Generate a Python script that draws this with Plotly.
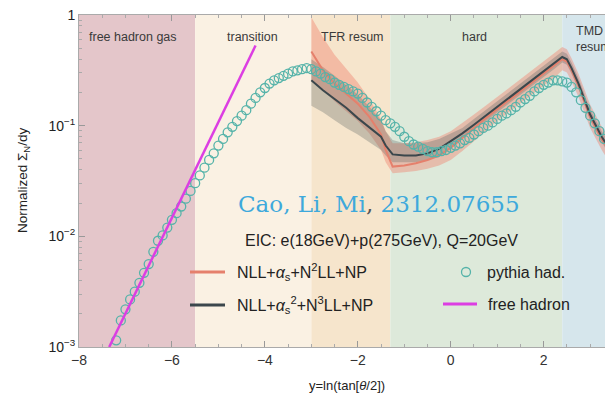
import numpy as np
import plotly.graph_objects as go

# ---------------- data ----------------
# kinematic regions along y = ln(tan(theta/2))
region_edges = [-8.0, -5.5, -3.0, -1.3, 2.4, 3.6]
region_colors = ["#e4c6ca", "#faf1e3", "#f6e5cc", "#dde9da", "#d6e6ec"]
region_names = ["free hadron gas", "transition", "TFR resum", "hard", "TMD<br>resum"]
region_label_x = [-6.84, -4.27, -2.12, 0.51, 2.65]

# PYTHIA hadron-level points
pythia_x = np.linspace(-7.2, 3.3, 106)
pythia_y = [
    1.15e-3, 1.74e-3, 2.19e-3, 2.69e-3, 3.16e-3, 3.80e-3, 4.68e-3, 5.62e-3, 7.24e-3, 9.12e-3,
    1.02e-2, 1.20e-2, 1.41e-2, 1.62e-2, 1.86e-2, 2.19e-2, 2.57e-2, 3.02e-2, 3.55e-2, 4.17e-2,
    4.90e-2, 5.62e-2, 6.61e-2, 7.59e-2, 8.71e-2, 9.77e-2, 0.110, 0.123, 0.138, 0.158,
    0.178, 0.200, 0.219, 0.240, 0.257, 0.269, 0.282, 0.295, 0.309, 0.316,
    0.324, 0.331, 0.324, 0.309, 0.295, 0.275, 0.263, 0.245, 0.234, 0.224,
    0.214, 0.204, 0.195, 0.178, 0.162, 0.148, 0.135, 0.123, 0.112, 0.105,
    0.0977, 0.0891, 0.0794, 0.0724, 0.0676, 0.0646, 0.0617, 0.0589, 0.0575, 0.0575,
    0.0589, 0.0603, 0.0631, 0.0661, 0.0692, 0.0741, 0.0776, 0.0832, 0.0891, 0.0955,
    0.100, 0.107, 0.115, 0.123, 0.129, 0.138, 0.148, 0.162, 0.174, 0.186,
    0.204, 0.219, 0.234, 0.245, 0.257, 0.257, 0.251, 0.245, 0.224, 0.200,
    0.170, 0.145, 0.123, 0.105, 0.0891, 0.0759,
]

# free-hadron-gas scaling line
free_x = [-7.35, -4.2]
free_y = [1.0e-3, 0.53]

# resummed predictions
theory_x = [-3.0, -2.75, -2.5, -2.25, -2.0, -1.75, -1.5, -1.4, -1.25, -1.0,
            -0.75, -0.5, -0.25, 0.0, 0.25, 0.5, 0.75, 1.0, 1.25, 1.5,
            1.75, 2.0, 2.25, 2.4, 2.5, 2.6, 2.75, 3.0, 3.25, 3.4]

# NLL + alpha_s + N2LL + NP
n2ll_mid = [0.468, 0.316, 0.240, 0.195, 0.158, 0.120, 0.0832, 0.0603, 0.0427, 0.0437,
            0.0457, 0.0490, 0.0537, 0.0631, 0.0776, 0.0955, 0.117, 0.141, 0.170, 0.204,
            0.245, 0.295, 0.355, 0.398, 0.380, 0.316, 0.229, 0.120, 0.0759, 0.0603]
n2ll_hi = [0.955, 0.631, 0.437, 0.324, 0.245, 0.174, 0.115, 0.0891, 0.0692, 0.0692,
           0.0708, 0.0741, 0.0794, 0.0891, 0.105, 0.126, 0.151, 0.182, 0.219, 0.263,
           0.316, 0.380, 0.457, 0.513, 0.490, 0.407, 0.295, 0.155, 0.0977, 0.0776]
n2ll_lo = [0.263, 0.209, 0.166, 0.135, 0.110, 0.0851, 0.0603, 0.0468, 0.0372, 0.0380,
           0.0389, 0.0407, 0.0437, 0.0490, 0.0589, 0.0724, 0.0891, 0.110, 0.132, 0.158,
           0.191, 0.229, 0.275, 0.316, 0.302, 0.251, 0.182, 0.0955, 0.0603, 0.0479]

# NLL + alpha_s^2 + N3LL + NP
n3ll_mid = [0.257, 0.209, 0.174, 0.145, 0.117, 0.0955, 0.0794, 0.0661, 0.0550, 0.0537,
            0.0537, 0.0562, 0.0617, 0.0724, 0.0851, 0.102, 0.123, 0.148, 0.178, 0.214,
            0.257, 0.309, 0.372, 0.417, 0.398, 0.331, 0.240, 0.126, 0.0794, 0.0631]
n3ll_hi = [0.398, 0.339, 0.282, 0.234, 0.191, 0.148, 0.112, 0.0891, 0.0741, 0.0692,
           0.0692, 0.0708, 0.0759, 0.0851, 0.0955, 0.115, 0.138, 0.166, 0.200, 0.240,
           0.288, 0.347, 0.417, 0.468, 0.447, 0.372, 0.269, 0.141, 0.0891, 0.0708]
n3ll_lo = [0.151, 0.132, 0.112, 0.0955, 0.0832, 0.0708, 0.0603, 0.0537, 0.0468, 0.0468,
           0.0468, 0.0490, 0.0537, 0.0617, 0.0759, 0.0912, 0.110, 0.132, 0.158, 0.191,
           0.229, 0.275, 0.331, 0.372, 0.355, 0.295, 0.214, 0.112, 0.0708, 0.0562]

x_ticks = [-8, -6, -4, -2, 0, 2]
x_ticktext = ["\u22128", "\u22126", "\u22124", "\u22122", "0", "2"]
y_ticks = [1e-3, 1e-2, 1e-1, 1]
y_ticktext = ["10<sup>\u22123</sup>", "10<sup>\u22122</sup>", "10<sup>\u22121</sup>", "1"]

# ---------------- layout geometry ----------------
W, H = 605, 398
ML, MR, MT, MB = 79, 0, 15, 51
PW, PH = W - ML - MR, H - MT - MB


def px(x):
    return (x - ML) / PW


def py(y):
    return 1 - (y - MT) / PH


FONT = "Liberation Sans, Arial, sans-serif"
RED = "#e5806c"
DARK = "#3b474c"
TEAL = "#55b3a9"
MAGENTA = "#dc3ee2"

fig = go.Figure()

# uncertainty bands
fig.add_trace(go.Scatter(x=theory_x, y=n2ll_lo, mode="lines", line=dict(width=0),
                         hoverinfo="skip", showlegend=False))
fig.add_trace(go.Scatter(x=theory_x, y=n2ll_hi, mode="lines", line=dict(width=0),
                         fill="tonexty", fillcolor="rgba(240,135,115,0.45)",
                         hoverinfo="skip", showlegend=False))
fig.add_trace(go.Scatter(x=theory_x, y=n3ll_lo, mode="lines", line=dict(width=0),
                         hoverinfo="skip", showlegend=False))
fig.add_trace(go.Scatter(x=theory_x, y=n3ll_hi, mode="lines", line=dict(width=0),
                         fill="tonexty", fillcolor="rgba(85,95,95,0.30)",
                         hoverinfo="skip", showlegend=False))

# central values
fig.add_trace(go.Scatter(x=theory_x, y=n2ll_mid, mode="lines",
                         line=dict(color=RED, width=2), showlegend=False))
fig.add_trace(go.Scatter(x=theory_x, y=n3ll_mid, mode="lines",
                         line=dict(color=DARK, width=2), showlegend=False))

# pythia
fig.add_trace(go.Scatter(x=pythia_x, y=pythia_y, mode="markers",
                         marker=dict(symbol="circle-open", size=9, color=TEAL,
                                     line=dict(width=1.3, color=TEAL)),
                         showlegend=False))

# free hadron line
fig.add_trace(go.Scatter(x=free_x, y=free_y, mode="lines",
                         line=dict(color=MAGENTA, width=2.5), showlegend=False))

shapes = []
annotations = []

# region backgrounds and labels
for i, name in enumerate(region_names):
    shapes.append(dict(type="rect", xref="x", yref="paper", x0=region_edges[i],
                       x1=region_edges[i + 1], y0=0, y1=1, fillcolor=region_colors[i],
                       line=dict(width=0), layer="below"))
    last = i == len(region_names) - 1
    annotations.append(dict(xref="x", yref="paper", x=region_label_x[i],
                            y=py(38.5 if last else 37), text=name, showarrow=False,
                            xanchor="left" if last else "center", yanchor="middle",
                            align="left",
                            font=dict(family=FONT, size=12.5, color="#3a3a3a")))

# citation and process text
annotations.append(dict(xref="paper", yref="paper", x=px(379), y=py(204),
                        text="Cao, Li, Mi<span style='color:#555'>,</span> 2312.07655",
                        showarrow=False, xanchor="center", yanchor="middle",
                        font=dict(family="DejaVu Serif, serif", size=23, color="#3ea9dc")))
annotations.append(dict(xref="paper", yref="paper", x=px(381), y=py(240),
                        text="EIC: e(18GeV)+p(275GeV), Q=20GeV", showarrow=False,
                        xanchor="center", yanchor="middle",
                        font=dict(family=FONT, size=16, color="#222")))

# legend
legend_font = dict(family=FONT, size=16, color="#222")
rows = [272, 305]
shapes.append(dict(type="line", xref="paper", yref="paper", x0=px(190), x1=px(225),
                   y0=py(rows[0]), y1=py(rows[0]), line=dict(color=RED, width=3)))
shapes.append(dict(type="line", xref="paper", yref="paper", x0=px(190), x1=px(225),
                   y0=py(rows[1]), y1=py(rows[1]), line=dict(color=DARK, width=3)))
annotations.append(dict(xref="paper", yref="paper", x=px(235), y=py(rows[0]),
                        text="NLL+<i>\u03b1</i><sub>s</sub>+N<sup>2</sup>LL+NP",
                        showarrow=False, xanchor="left", yanchor="middle", font=legend_font))
annotations.append(dict(xref="paper", yref="paper", x=px(235), y=py(rows[1]),
                        text="NLL+<i>\u03b1</i><sub>s</sub><sup>2</sup>+N<sup>3</sup>LL+NP",
                        showarrow=False, xanchor="left", yanchor="middle", font=legend_font))
shapes.append(dict(type="circle", xref="paper", yref="paper", xsizemode="pixel",
                   ysizemode="pixel", xanchor=px(466), yanchor=py(rows[0]),
                   x0=-4.5, x1=4.5, y0=-4.5, y1=4.5, line=dict(color=TEAL, width=1.3)))
shapes.append(dict(type="line", xref="paper", yref="paper", x0=px(443), x1=px(477),
                   y0=py(rows[1] - 1), y1=py(rows[1] - 1), line=dict(color=MAGENTA, width=3)))
annotations.append(dict(xref="paper", yref="paper", x=px(485), y=py(rows[0]),
                        text="pythia had.", showarrow=False, xanchor="left",
                        yanchor="middle", font=legend_font))
annotations.append(dict(xref="paper", yref="paper", x=px(486), y=py(rows[1] - 1),
                        text="free hadron", showarrow=False, xanchor="left",
                        yanchor="middle", font=legend_font))

# axis titles
annotations.append(dict(xref="paper", yref="paper", x=px(23), y=py(181),
                        text="Normalized \u03a3<sub>N</sub>/dy", textangle=-90,
                        showarrow=False, xanchor="center", yanchor="middle",
                        font=dict(family=FONT, size=13.5, color="#222")))
annotations.append(dict(xref="paper", yref="paper", x=px(347), y=py(385),
                        text="y=ln(tan[<i>\u03b8</i>/2])", showarrow=False,
                        xanchor="center", yanchor="middle",
                        font=dict(family=FONT, size=13, color="#222")))

y_minor = [m * 10.0 ** e for e in (-3, -2, -1) for m in range(2, 10)]

fig.update_layout(
    width=W, height=H,
    margin=dict(l=ML, r=MR, t=MT, b=MB),
    paper_bgcolor="white", plot_bgcolor="white",
    showlegend=False,
    shapes=shapes, annotations=annotations,
    xaxis=dict(range=[-8, 3.32], tickvals=x_ticks, ticktext=x_ticktext,
               ticks="inside", ticklen=6, tickcolor="#999", tickwidth=1,
               showline=True, linecolor="#aaa", linewidth=1, mirror="ticks",
               showgrid=False, zeroline=False,
               minor=dict(dtick=0.5, ticks="inside", ticklen=3, tickcolor="#aaa",
                          showgrid=False),
               tickfont=dict(family=FONT, size=14, color="#333")),
    yaxis=dict(type="log", range=[-3, 0], tickvals=y_ticks, ticktext=y_ticktext,
               ticks="inside", ticklen=6, tickcolor="#999", tickwidth=1,
               showline=True, linecolor="#aaa", linewidth=1,
               showgrid=False, zeroline=False,
               minor=dict(tickvals=y_minor, ticks="inside", ticklen=3,
                          tickcolor="#aaa", showgrid=False),
               tickfont=dict(family=FONT, size=14, color="#222")),
)

fig.write_html("out.html")
